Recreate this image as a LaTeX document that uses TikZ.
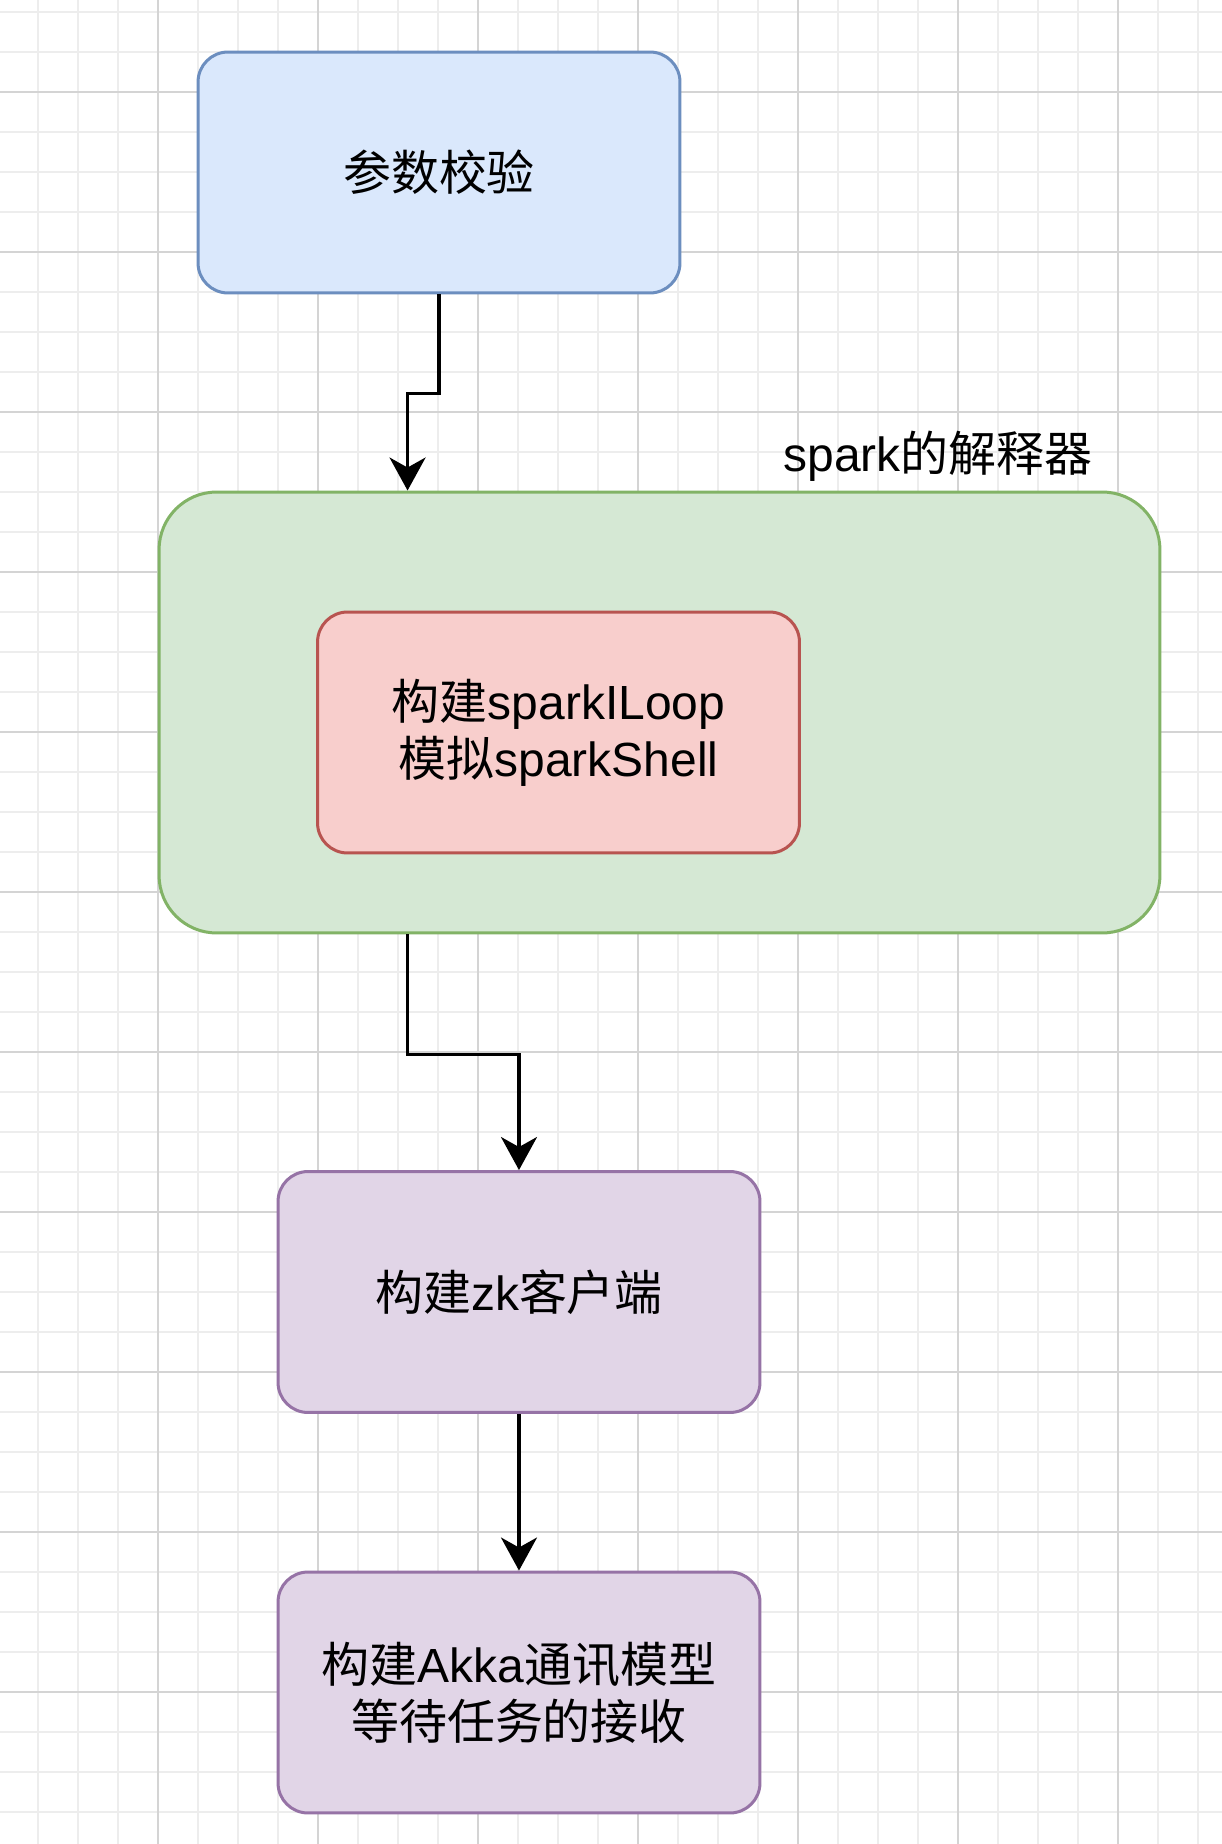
\documentclass[tikz,border=0pt]{standalone}
\usepackage{fontspec}
\usepackage{tikz}
\usepackage{xcolor}
\usetikzlibrary{arrows.meta, positioning, calc}
\setmainfont{Liberation Sans}
\newfontfamily\cjk{Noto Sans CJK SC}

\definecolor{bluefill}{HTML}{DAE8FC}
\definecolor{blueline}{HTML}{6C8EBF}
\definecolor{greenfill}{HTML}{D5E8D4}
\definecolor{greenline}{HTML}{82B366}
\definecolor{redfill}{HTML}{F8CECC}
\definecolor{redline}{HTML}{B85450}
\definecolor{purplefill}{HTML}{E1D5E7}
\definecolor{purpleline}{HTML}{9673A6}

\begin{document}
\begin{tikzpicture}[
            x=0.02cm, y=-0.02cm,
            minorline/.style={draw=black!7, line width=0.04cm},
            majorline/.style={draw=black!17, line width=0.04cm},
            node_style/.style={rectangle, rounded corners=0.6cm, line width=0.06cm, minimum width=9.64cm, minimum height=4.82cm, inner sep=0pt, align=center, font=\fontsize{27.3pt}{32.5pt}\selectfont},
            check/.style={node_style, draw=blueline, fill=bluefill},
            container/.style={node_style, draw=greenline, fill=greenfill, rounded corners=1.15cm, minimum width=20.02cm, minimum height=8.82cm},
            inner_box/.style={node_style, draw=redline, fill=redfill},
            stage/.style={node_style, draw=purpleline, fill=purplefill},
            arrow/.style={-{Stealth[length=0.66cm, width=0.72cm, inset=0.2cm]}, line width=0.07cm}
        ]

% Canvas and grid
            \fill[white] (0,0) rectangle (1222,1844);
            \useasboundingbox (0,0) rectangle (1222,1844);
            \foreach \x in {38,78,...,1222} \draw[minorline] (\x,0) -- (\x,1844);
            \foreach \y in {12,52,...,1844} \draw[minorline] (0,\y) -- (1222,\y);
            \foreach \x in {158,318,...,1222} \draw[majorline] (\x,0) -- (\x,1844);
            \foreach \y in {92,252,...,1844} \draw[majorline] (0,\y) -- (1222,\y);

% Flow boxes
            \node[check] (check) at (439,172.5) {{\cjk 参数校验}};
            \node[container] (interp) at (659.5,712.5) {};
            \node[inner_box] (loop) at (558.5,732.5) {{\cjk 构建}sparkILoop\\{\cjk 模拟}sparkShell};
            \node[stage] (zk) at (519,1292) {{\cjk 构建}zk{\cjk 客户端}};
            \node[stage] (akka) at (519,1692.5) {{\cjk 构建}Akka{\cjk 通讯模型}\\{\cjk 等待任务的接收}};

% Container label
            \node[anchor=base west, inner sep=0pt, font=\fontsize{27.3pt}{32.5pt}\selectfont] (interp_label) at (783,472) {spark{\cjk 的解释器}};

% Connections
            \draw[arrow] (check.south) -- ++(0,99) -| ([xshift=5cm]interp.north west);
            \draw[arrow] ([xshift=5cm]interp.south west) -- ++(0,120) -| (zk.north);
            \draw[arrow] (zk.south) -- (akka.north);

\end{tikzpicture}
\end{document}
